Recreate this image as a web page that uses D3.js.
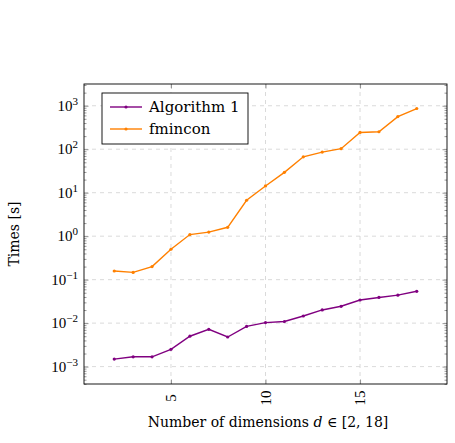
<!DOCTYPE html>
<html>
<head>
<meta charset="utf-8">
<script src="https://cdn.jsdelivr.net/npm/d3@7"></script>
<style>
  body { margin: 0; background: #fff; }
  text { font-family: "DejaVu Serif", serif; fill: #000; }
  .num { font-family: "Liberation Serif", serif; }
</style>
</head>
<body>
<div id="chart"></div>
<script>
var svgWidth = 455;
var svgHeight = 443;

var margin = { top: 84, right: 8, bottom: 59, left: 84 };
var width = svgWidth - margin.left - margin.right;
var height = svgHeight - margin.top - margin.bottom;

// data
var dims = [2, 3, 4, 5, 6, 7, 8, 9, 10, 11, 12, 13, 14, 15, 16, 17, 18];
var algo1 = [0.00149, 0.00168, 0.00168, 0.0025, 0.0050, 0.0072, 0.0048, 0.0084, 0.0103,
  0.0109, 0.0146, 0.0201, 0.0244, 0.034, 0.039, 0.044, 0.054];
var fmincon = [0.158, 0.147, 0.20, 0.50, 1.09, 1.24, 1.6, 6.7, 14.3, 29.4, 67, 86, 103,
  243, 252, 563, 863];
var seriesNames = ["Algorithm 1", "fmincon"];
var seriesColors = ["#800080", "#ff8000"];
var xTicks = [5, 10, 15];
var yExponents = [-3, -2, -1, 0, 1, 2, 3];

var svg = d3.select("#chart")
  .append("svg")
  .attr("width", svgWidth)
  .attr("height", svgHeight);

var chartGroup = svg.append("g")
  .attr("transform", `translate(${margin.left}, ${margin.top})`);

var xScale = d3.scaleLinear().domain([0.4, 19.6]).range([0, width]);
var yScale = d3.scaleLog().domain([Math.pow(10, -3.4), Math.pow(10, 3.5)]).range([height, 0]);

var yMajor = yExponents.map(e => Math.pow(10, e));
var yMinor = [];
for (var e = -4; e <= 3; e++) {
  for (var m = 2; m <= 9; m++) {
    var v = m * Math.pow(10, e);
    if (v >= yScale.domain()[0] && v <= yScale.domain()[1]) yMinor.push(v);
  }
}

// grid
chartGroup.selectAll(".xgrid")
  .data(xTicks)
  .enter()
  .append("line")
  .attr("x1", d => xScale(d)).attr("x2", d => xScale(d))
  .attr("y1", 0).attr("y2", height)
  .attr("stroke", "#d0d0d0")
  .attr("stroke-width", 0.8)
  .attr("stroke-dasharray", "4,4");

chartGroup.selectAll(".ygrid")
  .data(yMajor)
  .enter()
  .append("line")
  .attr("x1", 0).attr("x2", width)
  .attr("y1", d => yScale(d)).attr("y2", d => yScale(d))
  .attr("stroke", "#d0d0d0")
  .attr("stroke-width", 0.8)
  .attr("stroke-dasharray", "4,4");

// ticks (inside, on all sides)
var tickColor = "#555";
var xBottom = d3.axisBottom(xScale).tickValues(xTicks).tickSize(-4.5).tickFormat("");
var xTop = d3.axisTop(xScale).tickValues(xTicks).tickSize(-4.5).tickFormat("");
chartGroup.append("g").attr("transform", `translate(0, ${height})`).call(xBottom);
chartGroup.append("g").call(xTop);

var yLeft = d3.axisLeft(yScale).tickValues(yMajor).tickSize(-4.5).tickFormat("");
var yRight = d3.axisRight(yScale).tickValues(yMajor).tickSize(-4.5).tickFormat("");
var yLeftMinor = d3.axisLeft(yScale).tickValues(yMinor).tickSize(-2.5).tickFormat("");
var yRightMinor = d3.axisRight(yScale).tickValues(yMinor).tickSize(-2.5).tickFormat("");
chartGroup.append("g").call(yLeft);
chartGroup.append("g").call(yLeftMinor);
chartGroup.append("g").attr("transform", `translate(${width}, 0)`).call(yRight);
chartGroup.append("g").attr("transform", `translate(${width}, 0)`).call(yRightMinor);

chartGroup.selectAll(".domain").remove();
chartGroup.selectAll(".tick line").attr("stroke", tickColor).attr("stroke-width", 0.6);

// frame
chartGroup.append("rect")
  .attr("width", width).attr("height", height)
  .attr("fill", "none").attr("stroke", "#000").attr("stroke-width", 0.9);

// x tick labels, rotated
chartGroup.selectAll(".xlab")
  .data(xTicks)
  .enter()
  .append("text")
  .attr("class", "num")
  .attr("transform", d => `translate(${xScale(d) + 5}, ${height + 14}) rotate(-90)`)
  .attr("text-anchor", "middle")
  .style("font-size", "15px")
  .text(d => d);

// y tick labels 10^e
var yLab = chartGroup.selectAll(".ylab")
  .data(yExponents)
  .enter()
  .append("text")
  .attr("class", "num")
  .attr("x", -6)
  .attr("y", d => yScale(Math.pow(10, d)) + 5)
  .attr("text-anchor", "end")
  .style("font-size", "15px");
yLab.append("tspan").text("10");
yLab.append("tspan")
  .attr("dy", -6)
  .style("font-size", "11px")
  .text(d => d < 0 ? "\u2212" + (-d) : d);

// axis titles
chartGroup.append("text")
  .attr("transform", `translate(${-65}, ${height / 2}) rotate(-90)`)
  .attr("text-anchor", "middle")
  .style("font-size", "14px")
  .text("Times [s]");

var xTitle = chartGroup.append("text")
  .attr("x", 268 - margin.left)
  .attr("y", height + 43)
  .attr("text-anchor", "middle")
  .style("font-size", "14px");
xTitle.append("tspan").text("Number of dimensions ");
xTitle.append("tspan").style("font-style", "italic").text("d");
xTitle.append("tspan").text(" \u2208 [2, 18]");

// lines
var allSeries = [algo1, fmincon];
var line = d3.line()
  .x((d, i) => xScale(dims[i]))
  .y(d => yScale(d));

allSeries.forEach(function(values, k) {
  chartGroup.append("path")
    .datum(values)
    .attr("fill", "none")
    .attr("stroke", seriesColors[k])
    .attr("stroke-width", 1.4)
    .attr("d", line);

  chartGroup.selectAll(".pt" + k)
    .data(values)
    .enter()
    .append("circle")
    .attr("cx", (d, i) => xScale(dims[i]))
    .attr("cy", d => yScale(d))
    .attr("r", 1.6)
    .attr("fill", seriesColors[k]);
});

// legend
var legend = chartGroup.append("g")
  .attr("transform", `translate(${102 - margin.left}, ${93 - margin.top})`);

legend.append("rect")
  .attr("width", 146).attr("height", 51)
  .attr("fill", "#fff").attr("stroke", "#000").attr("stroke-width", 0.9);

seriesNames.forEach(function(name, k) {
  var yy = 14 + k * 22;
  legend.append("line")
    .attr("x1", 8).attr("x2", 40)
    .attr("y1", yy).attr("y2", yy)
    .attr("stroke", seriesColors[k]).attr("stroke-width", 1.4);
  legend.append("circle")
    .attr("cx", 24).attr("cy", yy).attr("r", 1.6)
    .attr("fill", seriesColors[k]);
  legend.append("text")
    .attr("x", 47).attr("y", yy + 5)
    .style("font-size", "15px")
    .text(name);
});
</script>
</body>
</html>
